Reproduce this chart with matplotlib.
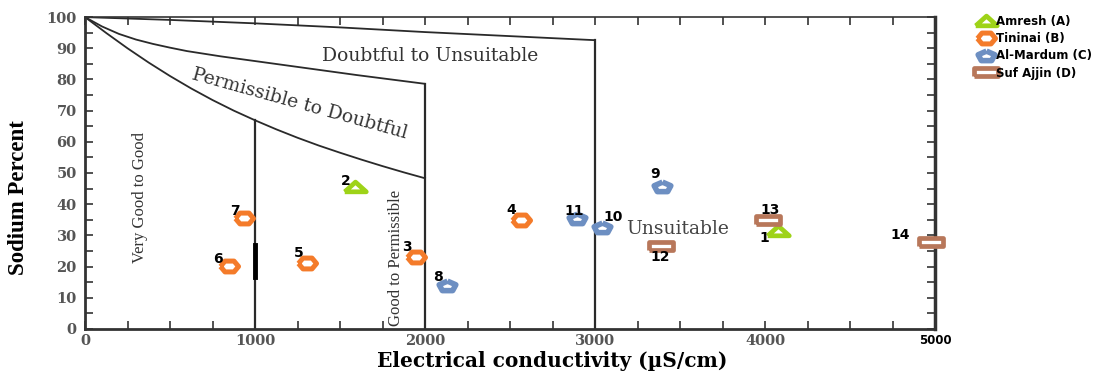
import numpy as np
import matplotlib.pyplot as plt
from matplotlib.ticker import MultipleLocator

# Wilcox diagram boundaries (EC in uS/cm, Na %)
top_ec = [0, 500, 1000, 1500, 2000, 2500, 3000]
top_na = [100, 99.1, 98.0, 96.7, 95.2, 93.9, 92.6]
mid_ec = [0, 50, 100, 200, 300, 400, 500, 600, 800, 1000, 1200, 1400, 1600, 1800, 2000]
mid_na = [100, 98.5, 97.0, 94.6, 92.8, 91.4, 90.2, 89.1, 87.4, 85.9, 84.4, 82.9, 81.4,
          80.0, 78.6]
low_ec = [0, 125, 250, 375, 500, 625, 750, 875, 1000, 1125, 1250, 1375, 1500, 1625,
          1750, 1875, 2000]
low_na = [100, 94.9, 90.0, 85.4, 81.1, 77.1, 73.4, 70.0, 66.9, 64.0, 61.3, 58.8, 56.5,
          54.3, 52.2, 50.2, 48.3]

# samples
amresh_id = [1, 2]
amresh_ec = [4077, 1588]
amresh_na = [31.4, 45.5]
tininai_id = [3, 4, 5, 6, 7]
tininai_ec = [1945, 2566, 1306, 849, 937]
tininai_na = [23.1, 34.9, 21.2, 20.2, 35.6]
mardum_id = [8, 9, 10, 11]
mardum_ec = [2132, 3392, 3040, 2894]
mardum_na = [14.1, 45.8, 32.7, 35.6]
ajjin_id = [12, 13, 14]
ajjin_ec = [3386, 4019, 4974]
ajjin_na = [26.6, 34.9, 27.9]

# label offsets (points)
label_off = {1: (-10, -5), 2: (-7, 4), 3: (-6, 7), 4: (-7, 7), 5: (-6, 7), 6: (-8, 5),
             7: (-7, 5), 8: (-7, 6), 9: (-5, 9), 10: (8, 7), 11: (-2, 5), 12: (0, -8),
             13: (1, 7), 14: (-22, 5)}

serif = 'Liberation Serif'
wide = 'DejaVu Serif'
line_c = '#2a2a2a'

fig = plt.figure(figsize=(11.04, 3.72), dpi=100)
ax = fig.add_axes([0.077, 0.116, 0.770, 0.838])

ax.plot(top_ec, top_na, color=line_c, lw=1.3)
ax.plot(mid_ec, mid_na, color=line_c, lw=1.3)
ax.plot(low_ec, low_na, color=line_c, lw=1.3)
ax.plot([3000, 3000], [top_na[-1], 0], color=line_c, lw=1.6)
ax.plot([2000, 2000], [mid_na[-1], 0], color=line_c, lw=1.6)
ax.plot([1000, 1000], [low_na[8], 0], color=line_c, lw=1.6)
ax.plot([1000, 1000], [16.5, 27], color='black', lw=3.5)

ax.text(2030, 87.5, 'Doubtful to Unsuitable', family=wide, fontsize=13.5, color='#333333',
        ha='center', va='center')
ax.text(1265, 72.0, 'Permissible to Doubtful', family=wide, fontsize=13.5, color='#333333',
        ha='center', va='center', rotation=-15.5, rotation_mode='anchor')
ax.text(322, 42, 'Very Good to Good', family=serif, fontsize=12, color='#333333',
        ha='center', va='center', rotation=90)
ax.text(1830, 22.8, 'Good to Permissible', family=serif, fontsize=12, color='#333333',
        ha='center', va='center', rotation=90)
ax.text(3485, 32, 'Unsuitable', family=wide, fontsize=13.5, color='#444444',
        ha='center', va='center')

tri = [(-1, -0.4), (1, -0.4), (0, 0.5), (-1, -0.4)]
hexm = [(-1, 0), (-0.5, 0.6), (0.5, 0.6), (1, 0), (0.5, -0.6), (-0.5, -0.6), (-1, 0)]
ang = np.deg2rad([90, 162, 234, 306, 18, 90])
pent = list(zip(np.cos(ang), 0.6 * np.sin(ang) - 0.1))
rectm = [(-1, -0.3), (1, -0.3), (1, 0.3), (-1, 0.3), (-1, -0.3)]

series = [
    ('Amresh (A)', amresh_id, amresh_ec, amresh_na, tri, '#9ed318', 15.5, 3.4),
    ('Tininai (B)', tininai_id, tininai_ec, tininai_na, hexm, '#f47b2a', 13, 3.6),
    ('Al-Mardum (C)', mardum_id, mardum_ec, mardum_na, pent, '#6d8fc2', 12, 4),
    ('Suf Ajjin (D)', ajjin_id, ajjin_ec, ajjin_na, rectm, '#b8775a', 17, 3.4),
]
for name, ids, ec, na, m, c, ms, mew in series:
    ax.plot(ec, na, ls='none', marker=m, ms=ms, mfc='white', mec=c, mew=mew,
            label=name, clip_on=False, zorder=5)
    for i, x, y in zip(ids, ec, na):
        ax.annotate(str(i), (x, y), xytext=label_off[i], textcoords='offset points',
                    ha='center', va='center', fontsize=10, fontweight='bold',
                    family='DejaVu Sans', zorder=6)

ax.set_xlim(0, 5000)
ax.set_ylim(0, 100)
ax.xaxis.set_major_locator(MultipleLocator(1000))
ax.xaxis.set_minor_locator(MultipleLocator(250))
ax.yaxis.set_major_locator(MultipleLocator(10))
ax.yaxis.set_minor_locator(MultipleLocator(5))
ax.tick_params(which='both', direction='in', top=True, right=True, color='#333333')
ax.tick_params(which='both', length=6, width=1.2)
ax.set_xticks([0, 1000, 2000, 3000, 4000, 5000])
ax.set_xticklabels(['0', '1000', '2000', '3000', '4000', '5000'])
for lab in ax.get_xticklabels() + ax.get_yticklabels():
    lab.set_family(wide)
    lab.set_fontsize(10.5)
    lab.set_color('#555555')
    lab.set_fontweight('bold')
last = ax.get_xticklabels()[-1]
last.set_family('DejaVu Sans')
last.set_fontsize(8.5)
last.set_color('black')
ax.tick_params(axis='x', pad=4)
ax.tick_params(axis='y', pad=6)
for s in ax.spines.values():
    s.set_color('#333333')
    s.set_linewidth(1.2)
ax.spines['right'].set_linewidth(2.5)
ax.spines['bottom'].set_linewidth(2)
ax.spines['left'].set_linewidth(2)

ax.set_ylabel('Sodium Percent', family=serif, fontsize=16.5, fontweight='bold')
ax.yaxis.set_label_coords(-0.066, 0.42)
ax.set_xlabel('Electrical conductivity (\u00b5S/cm)', family=wide, fontsize=14.5,
              fontweight='bold')
ax.xaxis.set_label_coords(0.549, -0.07)

fig.legend(loc='upper left', bbox_to_anchor=(0.880, 0.975), frameon=False,
           prop={'family': 'DejaVu Sans', 'weight': 'bold', 'size': 8.5},
           handletextpad=0.15, labelspacing=0.35, borderpad=0, handlelength=1.4,
           markerscale=1.0)

fig.savefig('out.png', dpi=100)
